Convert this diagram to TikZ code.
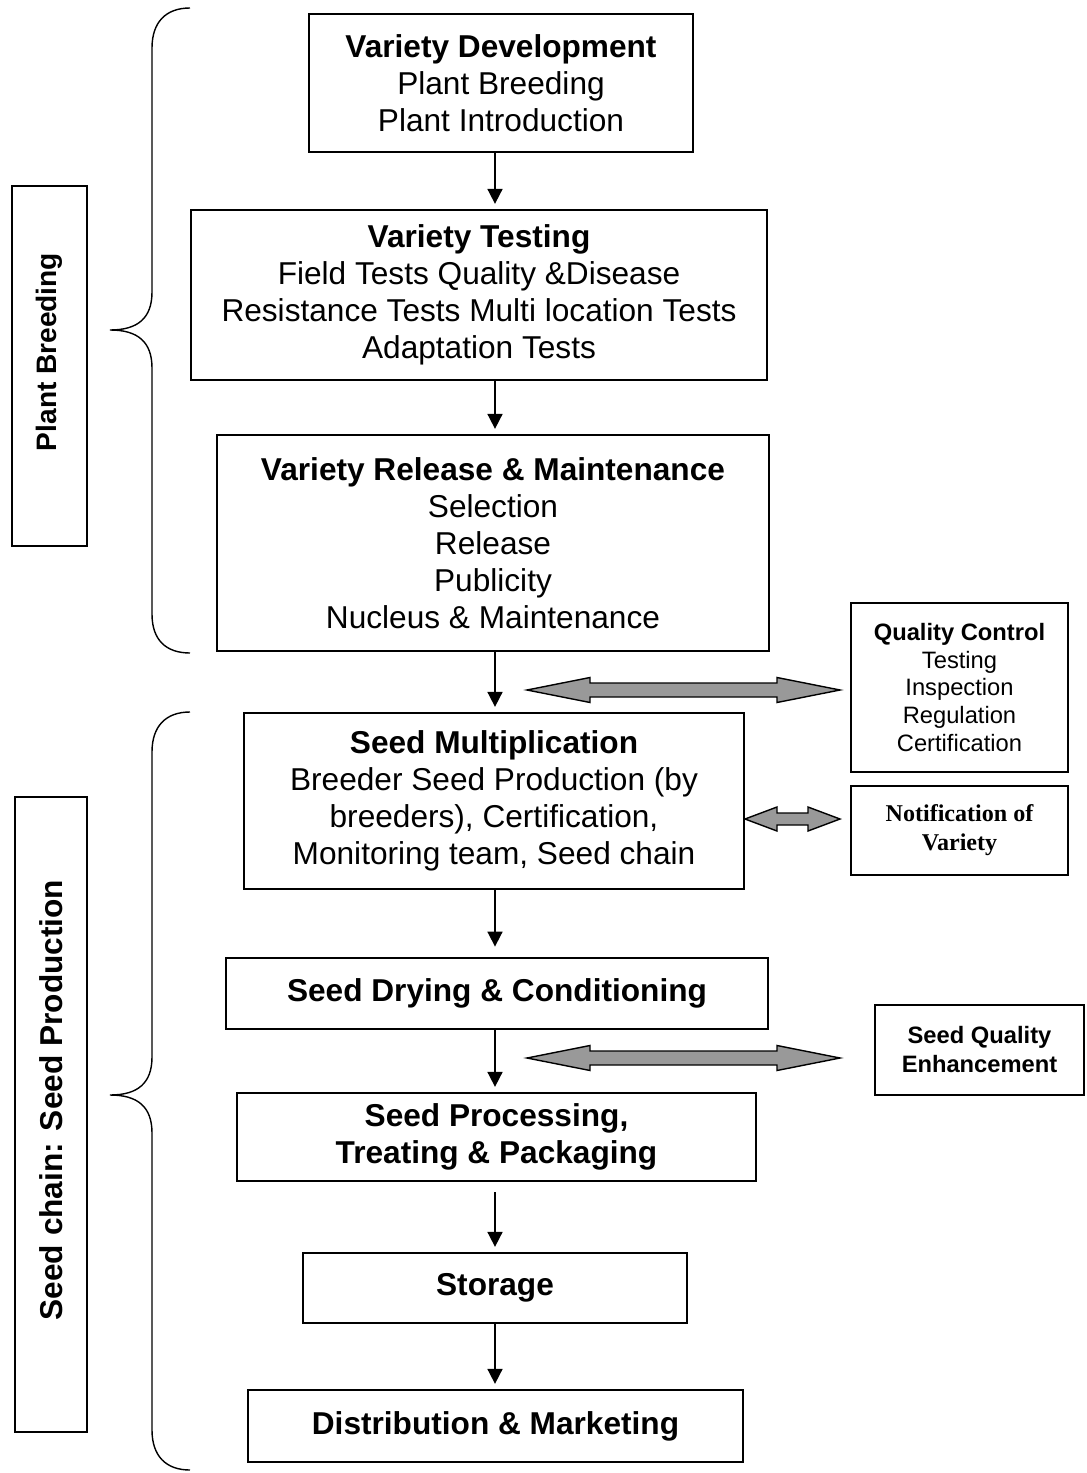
\documentclass[tikz,border=0pt]{standalone}
\usepackage{fontspec}
\setmainfont{Liberation Sans}
\newfontfamily\timesbold{Liberation Serif}[BoldFont={Liberation Serif Bold}]
\usetikzlibrary{arrows.meta,calc}

% grey double block arrow: left tip, right tip, head length, head half width, shaft half width
\newcommand{\twoway}[5]{%
  \draw[twoway] (#1) -- ($(#1)+(#3,#4)$) -- ($(#1)+(#3,#5)$) -- ($(#2)+(-#3,#5)$) -- ($(#2)+(-#3,#4)$) -- (#2)
    -- ($(#2)+(-#3,-#4)$) -- ($(#2)+(-#3,-#5)$) -- ($(#1)+(#3,-#5)$) -- ($(#1)+(#3,-#4)$) -- cycle;}

\begin{document}
\begin{tikzpicture}[x=0.02cm,y=-0.02cm,line width=1pt,
  every node/.style={draw,rectangle,align=center,inner sep=2pt},
  big/.style={font=\fontsize{18}{21}\selectfont},
  small/.style={font=\fontsize{13.5}{15.8}\selectfont},
  smallbold/.style={font=\bfseries\fontsize{13.5}{16.5}\selectfont},
  flow/.style={-{Triangle[length=0.3cm,width=0.3cm]},shorten >=3pt},
  twoway/.style={fill=black!40,line width=0.8pt,line join=miter},
  bracket/.style={line width=0.8pt}]
\useasboundingbox (0,0) rectangle (1086,1473);
% main chain
\node[big,minimum width=7.68cm,minimum height=2.76cm] (vdev) at (501,83) {\textbf{Variety Development}\\Plant Breeding\\Plant Introduction};
\node[big,minimum width=11.52cm,minimum height=3.4cm] (vtest) at (479,295) {\textbf{Variety Testing}\\Field Tests Quality \&Disease\\Resistance Tests Multi location Tests\\Adaptation Tests};
\node[big,minimum width=11.04cm,minimum height=4.32cm] (vrel) at (493,543) {\textbf{Variety Release \& Maintenance}\\Selection\\Release\\Publicity\\Nucleus \& Maintenance};
\node[big,minimum width=10cm,minimum height=3.52cm] (smult) at (494,801) {\textbf{Seed Multiplication}\\Breeder Seed Production (by\\breeders), Certification,\\Monitoring team, Seed chain};
\node[big,minimum width=10.84cm,minimum height=1.42cm] (dry) at (497,993.5) {\textbf{Seed Drying \& Conditioning}};
\node[big,minimum width=10.38cm,minimum height=1.76cm] (proc) at (496.5,1137) {\textbf{Seed Processing,}\\\textbf{Treating \& Packaging}};
\node[big,minimum width=7.68cm,minimum height=1.4cm] (store) at (495,1288) {\textbf{Storage}};
\node[big,minimum width=9.9cm,minimum height=1.44cm] (dist) at (495.5,1426) {\textbf{Distribution \& Marketing}};
% side boxes
\node[small,minimum width=4.34cm,minimum height=3.38cm] (qc) at (959.5,687.5) {\textbf{Quality Control}\\Testing\\Inspection\\Regulation\\Certification};
\node[font=\timesbold\bfseries\fontsize{13.7}{16.5}\selectfont,minimum width=4.34cm,minimum height=1.78cm] (notif) at (959.5,830.5) {Notification of\\Variety};
\node[smallbold,minimum width=4.18cm,minimum height=1.8cm] (sqe) at (979.5,1050) {Seed Quality\\Enhancement};
% group labels
\node[rotate=90,font=\bfseries\fontsize{16}{19}\selectfont,minimum width=7.2cm,minimum height=1.5cm] (pb) at (49.5,366) {\hspace*{0.56cm}Plant Breeding};
\node[rotate=90,font=\bfseries\fontsize{18}{21}\selectfont,minimum width=12.7cm,minimum height=1.44cm] (sc) at (51,1114.5) {\hspace*{0.58cm}Seed chain: Seed Production};

\coordinate (spine) at (495,0);
\draw[flow] (vdev.south -| spine) -- (vtest.north -| spine);
\draw[flow] (vtest.south -| spine) -- (vrel.north -| spine);
\draw[flow] (vrel.south -| spine) -- (smult.north -| spine);
\draw[flow,shorten >=6pt] (smult.south -| spine) -- (dry.north -| spine);
\draw[flow] (dry.south -| spine) -- (proc.north -| spine);
\draw[flow,shorten <=6pt] (proc.south -| spine) -- (store.north -| spine);
\draw[flow] (store.south -| spine) -- (dist.north -| spine);

\coordinate (qcL) at (527,690); \coordinate (qcR) at (840,690);
\coordinate (nvL) at (745,819); \coordinate (nvR) at (840,819);
\coordinate (sqL) at (527,1058); \coordinate (sqR) at (840,1058);
\twoway{qcL}{qcR}{63}{12.5}{7}
\twoway{nvL}{nvR}{32}{12}{6}
\twoway{sqL}{sqR}{63}{12.5}{7}

% braces
\draw[bracket] (190,8) .. controls (166,8) and (152,22) .. (152,48) -- (152,292)
  .. controls (152,318) and (138,330) .. (110,330) .. controls (138,330) and (152,342) .. (152,368)
  -- (152,614) .. controls (152,640) and (166,653) .. (190,653);
\draw[bracket] (190,712) .. controls (166,712) and (152,726) .. (152,752) -- (152,1057)
  .. controls (152,1083) and (138,1095) .. (110,1095) .. controls (138,1095) and (152,1107) .. (152,1133)
  -- (152,1430) .. controls (152,1456) and (166,1470) .. (190,1470);
\end{tikzpicture}
\end{document}
